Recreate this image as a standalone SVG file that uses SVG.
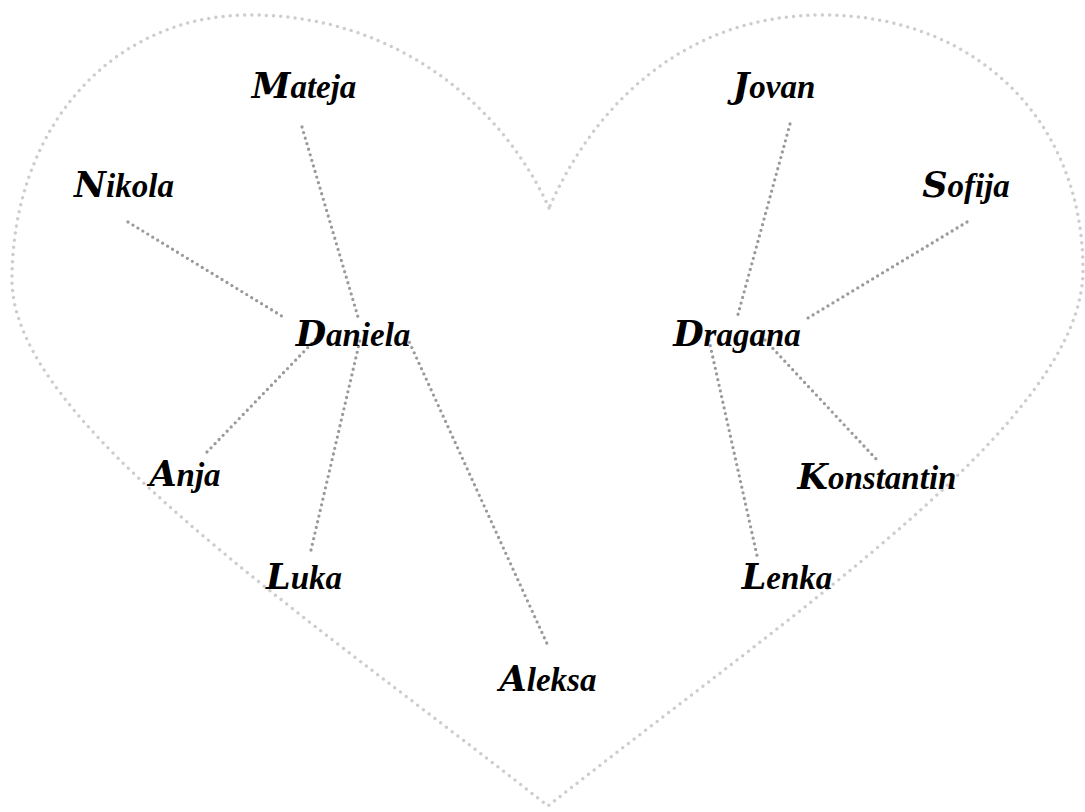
<svg xmlns="http://www.w3.org/2000/svg" width="1085" height="812" viewBox="0 0 1085 812">
<style>
.heart{fill:none;stroke:#cdcdcd;stroke-width:3.5;stroke-linecap:round;stroke-dasharray:0 7.2}
.edge{fill:none;stroke:#9a9a9a;stroke-width:3.3;stroke-linecap:round;stroke-dasharray:0 5.8}
.lbl{font-family:"Liberation Serif",serif;font-weight:bold;font-style:italic;font-size:33px;fill:#000;text-anchor:middle}
.ini{font-family:"DejaVu Serif",serif;font-size:35px;font-weight:bold;font-style:italic}
</style>
<rect width="1085" height="812" fill="#fff"/>
<path class="heart" d="M549 208 C505 110 400 15 250 15 C110 15 12 130 12 280 C12 420 300 610 548 806 C796 610 1083 420 1083 270 C1083 120 975 15 823 15 C680 15 592 110 549 208 Z"/>
<g id="connectors">
<line class="edge" x1="302" y1="127" x2="358" y2="317"/>
<line class="edge" x1="128" y1="222" x2="285" y2="318"/>
<line class="edge" x1="207" y1="452" x2="318" y2="337"/>
<line class="edge" x1="311" y1="550" x2="360" y2="340"/>
<line class="edge" x1="407" y1="337" x2="549" y2="648"/>
<line class="edge" x1="790" y1="124" x2="737" y2="318"/>
<line class="edge" x1="967" y1="222" x2="808" y2="318"/>
<line class="edge" x1="765" y1="340" x2="877" y2="460"/>
<line class="edge" x1="709" y1="340" x2="758" y2="560"/>
</g>
<g id="n-mateja"><text class="lbl" x="304" y="98"><tspan class="ini">M</tspan>ateja</text></g>
<g id="n-nikola"><text class="lbl" x="124" y="197"><tspan class="ini">N</tspan>ikola</text></g>
<g id="n-daniela"><text class="lbl" x="353" y="346"><tspan class="ini">D</tspan>aniela</text></g>
<g id="n-anja"><text class="lbl" x="185" y="486"><tspan class="ini">A</tspan>nja</text></g>
<g id="n-luka"><text class="lbl" x="304" y="589"><tspan class="ini">L</tspan>uka</text></g>
<g id="n-aleksa"><text class="lbl" x="548" y="691"><tspan class="ini">A</tspan>leksa</text></g>
<g id="n-jovan"><text class="lbl" x="774" y="98"><tspan class="ini">J</tspan>ovan</text></g>
<g id="n-sofija"><text class="lbl" x="966" y="197"><tspan class="ini">S</tspan>ofija</text></g>
<g id="n-dragana"><text class="lbl" x="737" y="346"><tspan class="ini">D</tspan>ragana</text></g>
<g id="n-konstantin"><text class="lbl" x="877" y="489"><tspan class="ini">K</tspan>onstantin</text></g>
<g id="n-lenka"><text class="lbl" x="787" y="589"><tspan class="ini">L</tspan>enka</text></g>
</svg>
